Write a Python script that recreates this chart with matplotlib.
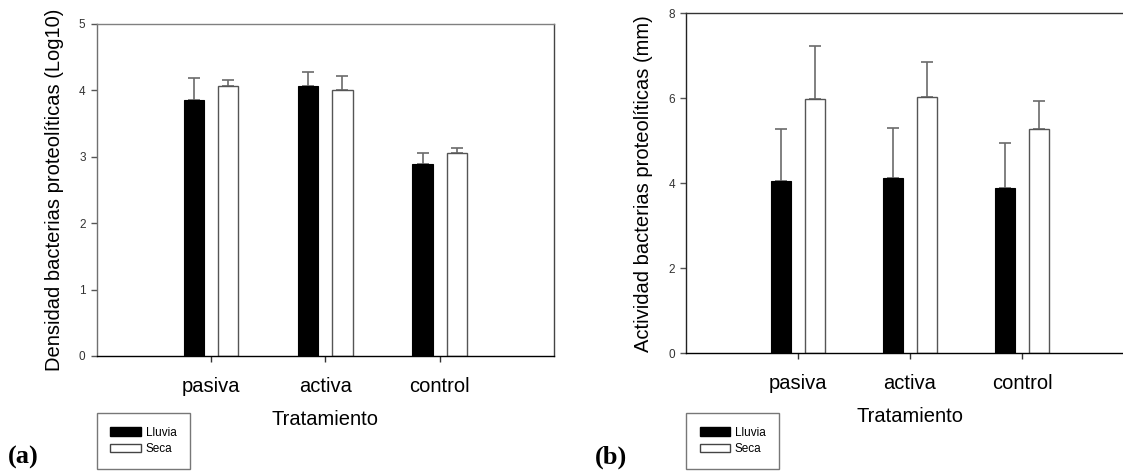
import matplotlib
matplotlib.use('Agg')
import matplotlib.pyplot as plt
from matplotlib.patches import Patch
import numpy as np

plt.rcParams['font.family'] = ['Liberation Sans', 'DejaVu Sans']

# Treatments and group names
treatments = ['pasiva', 'activa', 'control']
groups = ['Lluvia', 'Seca']

# (a) Density of proteolytic bacteria (log10): means and upper error
dens_lluvia = [3.85, 4.07, 2.89]
dens_lluvia_err = [0.33, 0.21, 0.17]
dens_seca = [4.07, 4.00, 3.05]
dens_seca_err = [0.08, 0.22, 0.08]

# (b) Proteolytic activity (mm): means and upper error
act_lluvia = [4.04, 4.11, 3.88]
act_lluvia_err = [1.24, 1.20, 1.06]
act_seca = [5.98, 6.04, 5.28]
act_seca_err = [1.26, 0.81, 0.66]

W, H = 1123, 472
fig = plt.figure(figsize=(W / 100, H / 100), dpi=100)

bar_w = 0.18
off = 0.15
err_col = '#6b6b6b'


def px_box(x0, x1, y_top, y_bot):
    return [x0 / W, 1 - y_bot / H, (x1 - x0) / W, (y_bot - y_top) / H]


def draw_panel(ax, lluvia, lluvia_err, seca, seca_err, ymax, yticks, ylabel):
    x = np.arange(1, len(treatments) + 1)
    zeros = np.zeros(len(x))
    ax.bar(x - off, lluvia, bar_w, color='black', edgecolor='black', linewidth=0.8, zorder=2)
    ax.bar(x + off, seca, bar_w, color='white', edgecolor='#555555', linewidth=1.0, zorder=2)
    ax.errorbar(x - off, lluvia, yerr=[zeros, lluvia_err], fmt='none', ecolor=err_col,
                elinewidth=1.2, capsize=4.5, capthick=1.2, zorder=1)
    ax.errorbar(x + off, seca, yerr=[zeros, seca_err], fmt='none', ecolor=err_col,
                elinewidth=1.2, capsize=4.5, capthick=1.2, zorder=1)
    ax.set_xlim(0, 4)
    ax.set_ylim(0, ymax)
    ax.set_xticks(x)
    ax.set_xticklabels(treatments, fontsize=14.5)
    ax.set_yticks(yticks)
    ax.set_yticklabels([str(t) for t in yticks], fontsize=8.5, color='#333333')
    ax.tick_params(axis='y', direction='out', length=4, width=1, color='#555555', pad=4)
    ax.tick_params(axis='x', direction='out', length=4, width=1, color='#333333', pad=11)
    ax.set_xlabel('Tratamiento', fontsize=14.5, labelpad=10)
    ax.set_ylabel(ylabel, fontsize=14.5, labelpad=11)
    for s in ax.spines.values():
        s.set_linewidth(1.0)
    ax.spines['bottom'].set_color('black')


# (a) panel
ax1 = fig.add_axes(px_box(96.7, 554, 24, 356))
draw_panel(ax1, dens_lluvia, dens_lluvia_err, dens_seca, dens_seca_err,
           5, [0, 1, 2, 3, 4, 5], 'Densidad bacterias proteolíticas (Log10)')
ax1.spines['left'].set_color('#707070')
ax1.spines['top'].set_color('#808080')
ax1.spines['right'].set_color('#444444')

# (b) panel, right edge runs past the figure border
ax2 = fig.add_axes(px_box(686, 1134, 13.3, 353))
draw_panel(ax2, act_lluvia, act_lluvia_err, act_seca, act_seca_err,
           8, [0, 2, 4, 6, 8], 'Actividad bacterias proteolíticas (mm)')
ax2.spines['left'].set_color('#222222')
ax2.spines['top'].set_color('#333333')

# legends
handles = [Patch(facecolor='black', edgecolor='black', label=groups[0]),
           Patch(facecolor='white', edgecolor='#444444', label=groups[1])]
for xl, yt in [(96.7, 413), (686, 413)]:
    leg = fig.legend(handles=handles, loc='upper left', bbox_to_anchor=(xl / W, 1 - yt / H),
                     bbox_transform=fig.transFigure, fontsize=8.5, frameon=True,
                     fancybox=False, borderaxespad=0, handlelength=2.6, handleheight=0.7,
                     handletextpad=0.4, labelspacing=0.4, borderpad=1.15)
    leg.get_frame().set_edgecolor('#555555')
    leg.get_frame().set_linewidth(1.0)

# panel letters
fig.text(8 / W, 1 - 464 / H, '(a)', fontsize=19, fontweight='bold',
         family=['Liberation Serif', 'DejaVu Serif'], va='baseline', ha='left')
fig.text(595 / W, 1 - 464 / H, '(b)', fontsize=19, fontweight='bold',
         family=['Liberation Serif', 'DejaVu Serif'], va='baseline', ha='left')

fig.savefig('out.png', dpi=100)
